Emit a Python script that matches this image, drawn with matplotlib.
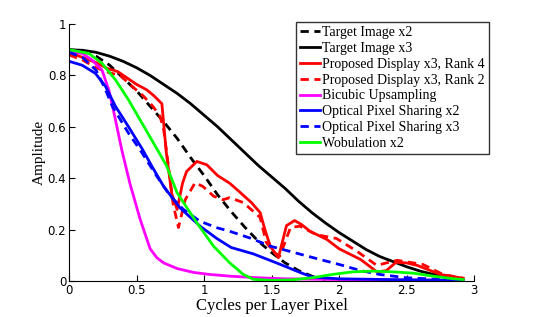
import numpy as np
import matplotlib.pyplot as plt

# Target Image x2 (black dashed)
t2_x = [0, 0.1, 0.2, 0.3, 0.4, 0.5, 0.6, 0.7, 0.8, 0.9, 1.0, 1.1, 1.2, 1.3, 1.4, 1.5, 1.6, 1.7, 1.8, 1.9]
t2_y = [0.90, 0.895, 0.875, 0.84, 0.79, 0.74, 0.68, 0.62, 0.555, 0.48, 0.41, 0.335, 0.27, 0.21, 0.155, 0.11, 0.07, 0.04, 0.018, 0.005]

# Target Image x3 (black solid)
t3_x = [0, 0.1, 0.2, 0.3, 0.4, 0.5, 0.6, 0.7, 0.8, 0.9, 1.0, 1.1, 1.2, 1.3, 1.4, 1.5,
        1.6, 1.7, 1.8, 1.9, 2.0, 2.1, 2.2, 2.3, 2.4, 2.5, 2.6, 2.7, 2.8, 2.9]
t3_y = [0.90, 0.898, 0.89, 0.875, 0.855, 0.83, 0.80, 0.765, 0.73, 0.69, 0.645, 0.60, 0.55, 0.50, 0.45, 0.405,
        0.36, 0.31, 0.265, 0.225, 0.188, 0.155, 0.122, 0.095, 0.075, 0.055, 0.038, 0.025, 0.013, 0.005]

# Proposed Display x3, Rank 4 (red solid)
r4_x = [0, 0.1, 0.2, 0.28, 0.36, 0.43, 0.5, 0.575, 0.63, 0.687, 0.72, 0.76, 0.80, 0.84, 0.87, 0.946,
        1.02, 1.1, 1.19, 1.27, 1.35, 1.415, 1.45, 1.49, 1.55, 1.61, 1.67, 1.72, 1.785, 1.91, 2.0,
        2.16, 2.28, 2.35, 2.42, 2.5, 2.58, 2.75, 2.92]
r4_y = [0.89, 0.87, 0.85, 0.828, 0.815, 0.79, 0.765, 0.744, 0.72, 0.69, 0.50, 0.34, 0.278, 0.38, 0.426, 0.465,
        0.452, 0.41, 0.38, 0.343, 0.305, 0.266, 0.20, 0.135, 0.09, 0.215, 0.235, 0.22, 0.193, 0.161, 0.125,
        0.083, 0.035, 0.04, 0.072, 0.07, 0.06, 0.025, 0.01]

# Proposed Display x3, Rank 2 (red dashed)
r2_x = [0, 0.1, 0.2, 0.3, 0.38, 0.45, 0.55, 0.62, 0.674, 0.70, 0.735, 0.77, 0.81, 0.86, 0.933, 0.99,
        1.07, 1.14, 1.19, 1.29, 1.415, 1.46, 1.52, 1.56, 1.64, 1.71, 1.83, 1.98, 2.13, 2.28, 2.35,
        2.43, 2.62, 2.77, 2.92]
r2_y = [0.88, 0.86, 0.83, 0.81, 0.80, 0.765, 0.72, 0.68, 0.64, 0.59, 0.45, 0.30, 0.208, 0.316, 0.382, 0.368,
        0.33, 0.316, 0.324, 0.305, 0.247, 0.15, 0.11, 0.096, 0.208, 0.213, 0.18, 0.165, 0.116, 0.06, 0.07,
        0.08, 0.064, 0.025, 0.01]

# Bicubic Upsampling (magenta)
bc_x = [0, 0.1, 0.17, 0.244, 0.294, 0.33, 0.39, 0.45, 0.526, 0.6, 0.65, 0.7, 0.8, 0.92, 1.04, 1.2,
        1.4, 1.6, 2.0, 2.5, 2.92]
bc_y = [0.895, 0.885, 0.86, 0.82, 0.744, 0.66, 0.51, 0.38, 0.24, 0.125, 0.09, 0.07, 0.048, 0.033, 0.025, 0.018,
        0.012, 0.008, 0.005, 0.003, 0.002]

# Optical Pixel Sharing x2 (blue solid)
o2_x = [0, 0.096, 0.195, 0.27, 0.343, 0.44, 0.54, 0.62, 0.70, 0.82, 0.97, 1.094, 1.2, 1.365, 1.56,
        1.7, 1.8, 2.0, 2.5, 2.92]
o2_y = [0.855, 0.84, 0.808, 0.757, 0.68, 0.60, 0.515, 0.44, 0.368, 0.285, 0.213, 0.165, 0.13, 0.105, 0.065,
        0.035, 0.015, 0.008, 0.004, 0.002]

# Optical Pixel Sharing x3 (blue dashed)
o3_x = [0, 0.1, 0.2, 0.27, 0.32, 0.44, 0.526, 0.65, 0.75, 0.847, 0.97, 1.094, 1.19, 1.35, 1.49, 1.563,
        1.86, 2.0, 2.16, 2.3, 2.5, 2.7, 2.92]
o3_y = [0.89, 0.87, 0.82, 0.744, 0.68, 0.575, 0.51, 0.407, 0.33, 0.278, 0.232, 0.207, 0.193, 0.165, 0.135, 0.125,
        0.083, 0.064, 0.04, 0.025, 0.012, 0.007, 0.005]

# Wobulation x2 (green)
wb_x = [0, 0.146, 0.244, 0.343, 0.44, 0.54, 0.64, 0.72, 0.80, 0.946, 1.07, 1.19, 1.29, 1.365, 1.5,
        1.65, 1.8, 1.95, 2.1, 2.25, 2.4, 2.55, 2.7, 2.85, 2.92]
wb_y = [0.9, 0.886, 0.847, 0.783, 0.705, 0.614, 0.523, 0.45, 0.343, 0.226, 0.135, 0.07, 0.025, 0.006, 0.002,
        0.004, 0.012, 0.025, 0.035, 0.038, 0.035, 0.03, 0.018, 0.008, 0.005]

series = [
    (t2_x, t2_y, 'k', '--', 'Target Image x2'),
    (t3_x, t3_y, 'k', '-', 'Target Image x3'),
    (r4_x, r4_y, 'r', '-', 'Proposed Display x3, Rank 4'),
    (r2_x, r2_y, 'r', '--', 'Proposed Display x3, Rank 2'),
    (bc_x, bc_y, '#ff00ff', '-', 'Bicubic Upsampling'),
    (o2_x, o2_y, 'b', '-', 'Optical Pixel Sharing x2'),
    (o3_x, o3_y, 'b', '--', 'Optical Pixel Sharing x3'),
    (wb_x, wb_y, '#00ff00', '-', 'Wobulation x2'),
]

fig = plt.figure(figsize=(5.4, 3.17), dpi=100)
ax = fig.add_axes([0.128, 0.114, 0.75, 0.81])

for x, y, c, ls, lab in series:
    if ls == '--':
        ax.plot(x, y, color=c, linestyle=ls, linewidth=2, label=lab, dashes=(3, 2))
    else:
        ax.plot(x, y, color=c, linestyle=ls, linewidth=2, label=lab)

ax.set_xlim(0, 3)
ax.set_ylim(0, 1)
ax.set_xticks([0, 0.5, 1, 1.5, 2, 2.5, 3])
ax.set_xticklabels(['0', '0.5', '1', '1.5', '2', '2.5', '3'])
ax.set_yticks([0, 0.2, 0.4, 0.6, 0.8, 1])
ax.set_yticklabels(['0', '0.2', '0.4', '0.6', '0.8', '1'])
ax.tick_params(direction='in', length=4, labelsize=8.5, pad=2)
ax.spines['top'].set_visible(False)
ax.spines['right'].set_visible(False)

ax.set_xlabel('Cycles per Layer Pixel', family='Liberation Serif', fontsize=12, labelpad=1)
ax.set_ylabel('Amplitude', family='Liberation Serif', fontsize=11, labelpad=1)

leg = ax.legend(loc='upper left', bbox_to_anchor=(0.548, 0.93), bbox_transform=fig.transFigure,
                prop={'family': 'Liberation Serif', 'size': 10}, frameon=True, fancybox=False,
                handlelength=1.4, handletextpad=0.2, labelspacing=0.2, borderpad=0.3,
                borderaxespad=0)
leg.get_frame().set_edgecolor('k')
leg.get_frame().set_linewidth(1)

fig.savefig('out.png', dpi=100)
